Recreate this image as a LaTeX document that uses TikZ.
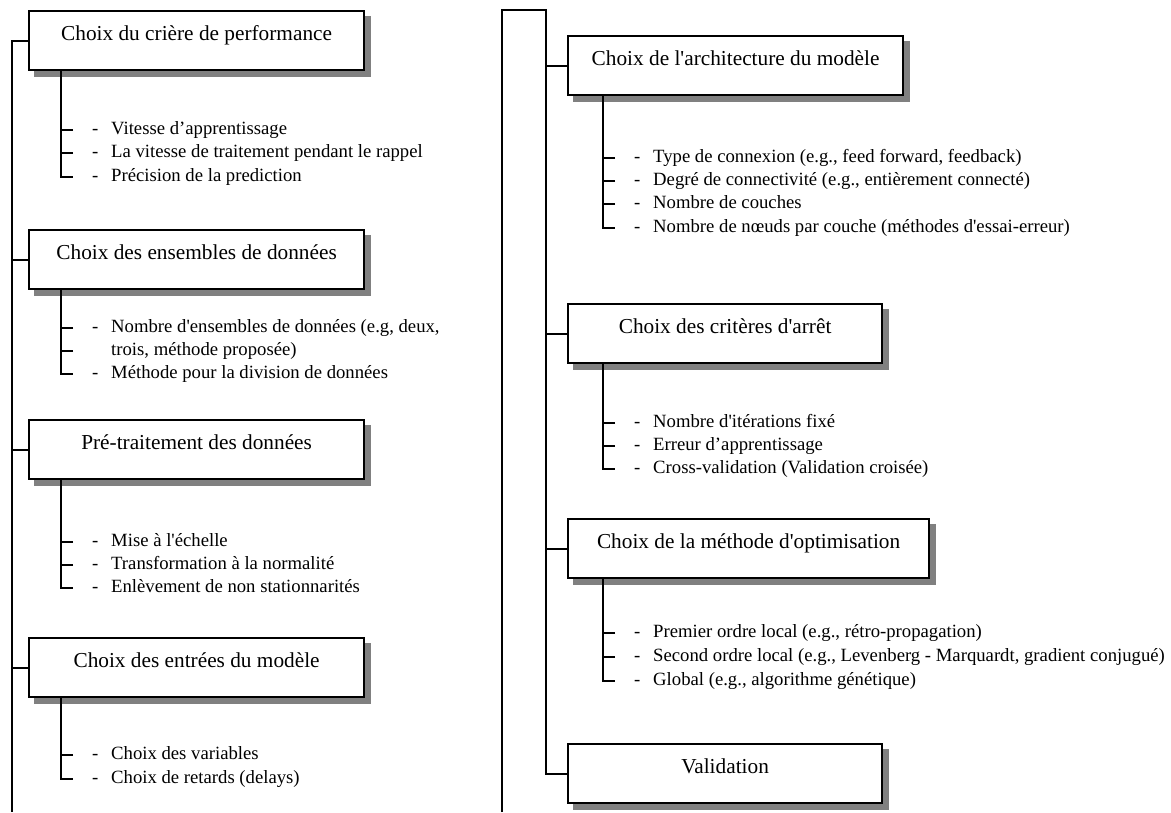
\documentclass[tikz,border=0pt]{standalone}
\usepackage{fontspec}
\setmainfont{Liberation Serif}[Ligatures=TeXOff]
\usetikzlibrary{backgrounds}
\tikzset{
    titlebox/.style={draw=black, line width=2.2pt, fill=white, anchor=north west, inner sep=0pt,
        text height=29.5pt, text depth=29.5pt, font=\fontsize{21.3}{25}\selectfont},
    itembox/.style={anchor=west, inner sep=0pt, text height=14pt, text depth=5pt, font=\fontsize{18.7}{23}\selectfont},
    branch/.style={line width=2pt},
    boxshadow/.style={fill=black!50},
}
\newcommand\itm[1]{\hspace*{19pt}\makebox[19pt][l]{-}#1}
\newcommand\itmcont[1]{\hspace*{38pt}#1}

\begin{document}
\begin{tikzpicture}[x=1pt, y=-1pt]
    \useasboundingbox (0,0) rectangle (1171,812);
    \newcommand\posL{28}
    \newcommand\posR{567}
    \newcommand\tickL{73}
    \newcommand\tickR{615}

    % left column
    \node[titlebox, minimum width=335pt] (perf) at (\posL, 10){Choix du crière de performance};
    \node[titlebox, minimum width=335pt] (data) at (\posL, 229){Choix des ensembles de données};
    \node[titlebox, minimum width=335pt] (pretr) at (\posL, 419){Pré-traitement des données};
    \node[titlebox, minimum width=335pt] (entr) at (\posL, 637){Choix des entrées du modèle};

    \node[itembox] (perfA) at (\tickL, 130){\itm{Vitesse d’apprentissage}};
    \node[itembox] (perfB) at (\tickL, 153){\itm{La vitesse de traitement pendant le rappel}};
    \node[itembox] (perfC) at (\tickL, 177){\itm{Précision de la prediction}};

    \node[itembox] (dataA) at (\tickL, 328){\itm{Nombre d'ensembles de données (e.g, deux,}};
    \node[itembox] (dataB) at (\tickL, 351){\itmcont{trois, méthode proposée)}};
    \node[itembox] (dataC) at (\tickL, 374){\itm{Méthode pour la division de données}};

    \node[itembox] (pretrA) at (\tickL, 542){\itm{Mise à l'échelle}};
    \node[itembox] (pretrB) at (\tickL, 565){\itm{Transformation à la normalité}};
    \node[itembox] (pretrC) at (\tickL, 588){\itm{Enlèvement de non stationnarités}};

    \node[itembox] (entrA) at (\tickL, 755){\itm{Choix des variables}};
    \node[itembox] (entrB) at (\tickL, 779){\itm{Choix de retards (delays)}};

    % right column
    \node[titlebox, minimum width=335pt] (arch) at (\posR, 35){Choix de l'architecture du modèle};
    \node[titlebox, minimum width=314pt] (arret) at (\posR, 303){Choix des critères d'arrêt};
    \node[titlebox, minimum width=361pt] (optim) at (\posR, 518){Choix de la méthode d'optimisation};
    \node[titlebox, minimum width=314pt] (valid) at (\posR, 743){Validation};

    \node[itembox] (archA) at (\tickR, 158){\itm{Type de connexion (e.g., feed forward, feedback)}};
    \node[itembox] (archB) at (\tickR, 181){\itm{Degré de connectivité (e.g., entièrement connecté)}};
    \node[itembox] (archC) at (\tickR, 204){\itm{Nombre de couches}};
    \node[itembox] (archD) at (\tickR, 228){\itm{Nombre de nœuds par couche (méthodes d'essai-erreur)}};

    \node[itembox] (arretA) at (\tickR, 423){\itm{Nombre d'itérations fixé}};
    \node[itembox] (arretB) at (\tickR, 446){\itm{Erreur d’apprentissage}};
    \node[itembox] (arretC) at (\tickR, 469){\itm{Cross-validation (Validation croisée)}};

    \node[itembox] (optimA) at (\tickR, 633){\itm{Premier ordre local (e.g., rétro-propagation)}};
    \node[itembox] (optimB) at (\tickR, 657){\itm{Second ordre local (e.g., Levenberg - Marquardt, gradient conjugué)}};
    \node[itembox] (optimC) at (\tickR, 681){\itm{Global (e.g., algorithme génétique)}};

    % shadows
    \begin{scope}[on background layer]
        \foreach \b in {perf, data, pretr, entr, arch, arret, optim, valid}
            \fill[boxshadow] ([shift={(6pt,-6pt)}]\b.south west) rectangle ([shift={(6pt,-6pt)}]\b.north east);
    \end{scope}

    % trunks
    \coordinate (trunkL) at (12, 812);
    \coordinate (outerR) at (502, 812);
    \coordinate (topR) at (546, 10);
    \draw[branch] (perf.west) -| (trunkL);
    \draw[branch] (data.west) -- (data.west -| trunkL);
    \draw[branch] (pretr.west) -- (pretr.west -| trunkL);
    \draw[branch] (entr.west) -- (entr.west -| trunkL);
    \draw[branch] (outerR) |- (topR) |- (valid.west);
    \draw[branch] (arch.west) -- (arch.west -| topR);
    \draw[branch] (arret.west) -- (arret.west -| topR);
    \draw[branch] (optim.west) -- (optim.west -| topR);

    % stems and ticks
    \draw[branch] (perf.south west) ++(33,0) |- (perfC.west);
    \draw[branch] (perfA.west) -- ++(-12,0);
    \draw[branch] (perfB.west) -- ++(-12,0);
    \draw[branch] (data.south west) ++(33,0) |- (dataC.west);
    \draw[branch] (dataA.west) -- ++(-12,0);
    \draw[branch] (dataB.west) -- ++(-12,0);
    \draw[branch] (pretr.south west) ++(33,0) |- (pretrC.west);
    \draw[branch] (pretrA.west) -- ++(-12,0);
    \draw[branch] (pretrB.west) -- ++(-12,0);
    \draw[branch] (entr.south west) ++(33,0) |- (entrB.west);
    \draw[branch] (entrA.west) -- ++(-12,0);

    \draw[branch] (arch.south west) ++(36,0) |- (archD.west);
    \draw[branch] (archA.west) -- ++(-12,0);
    \draw[branch] (archB.west) -- ++(-12,0);
    \draw[branch] (archC.west) -- ++(-12,0);
    \draw[branch] (arret.south west) ++(36,0) |- (arretC.west);
    \draw[branch] (arretA.west) -- ++(-12,0);
    \draw[branch] (arretB.west) -- ++(-12,0);
    \draw[branch] (optim.south west) ++(36,0) |- (optimC.west);
    \draw[branch] (optimA.west) -- ++(-12,0);
    \draw[branch] (optimB.west) -- ++(-12,0);
\end{tikzpicture}
\end{document}
